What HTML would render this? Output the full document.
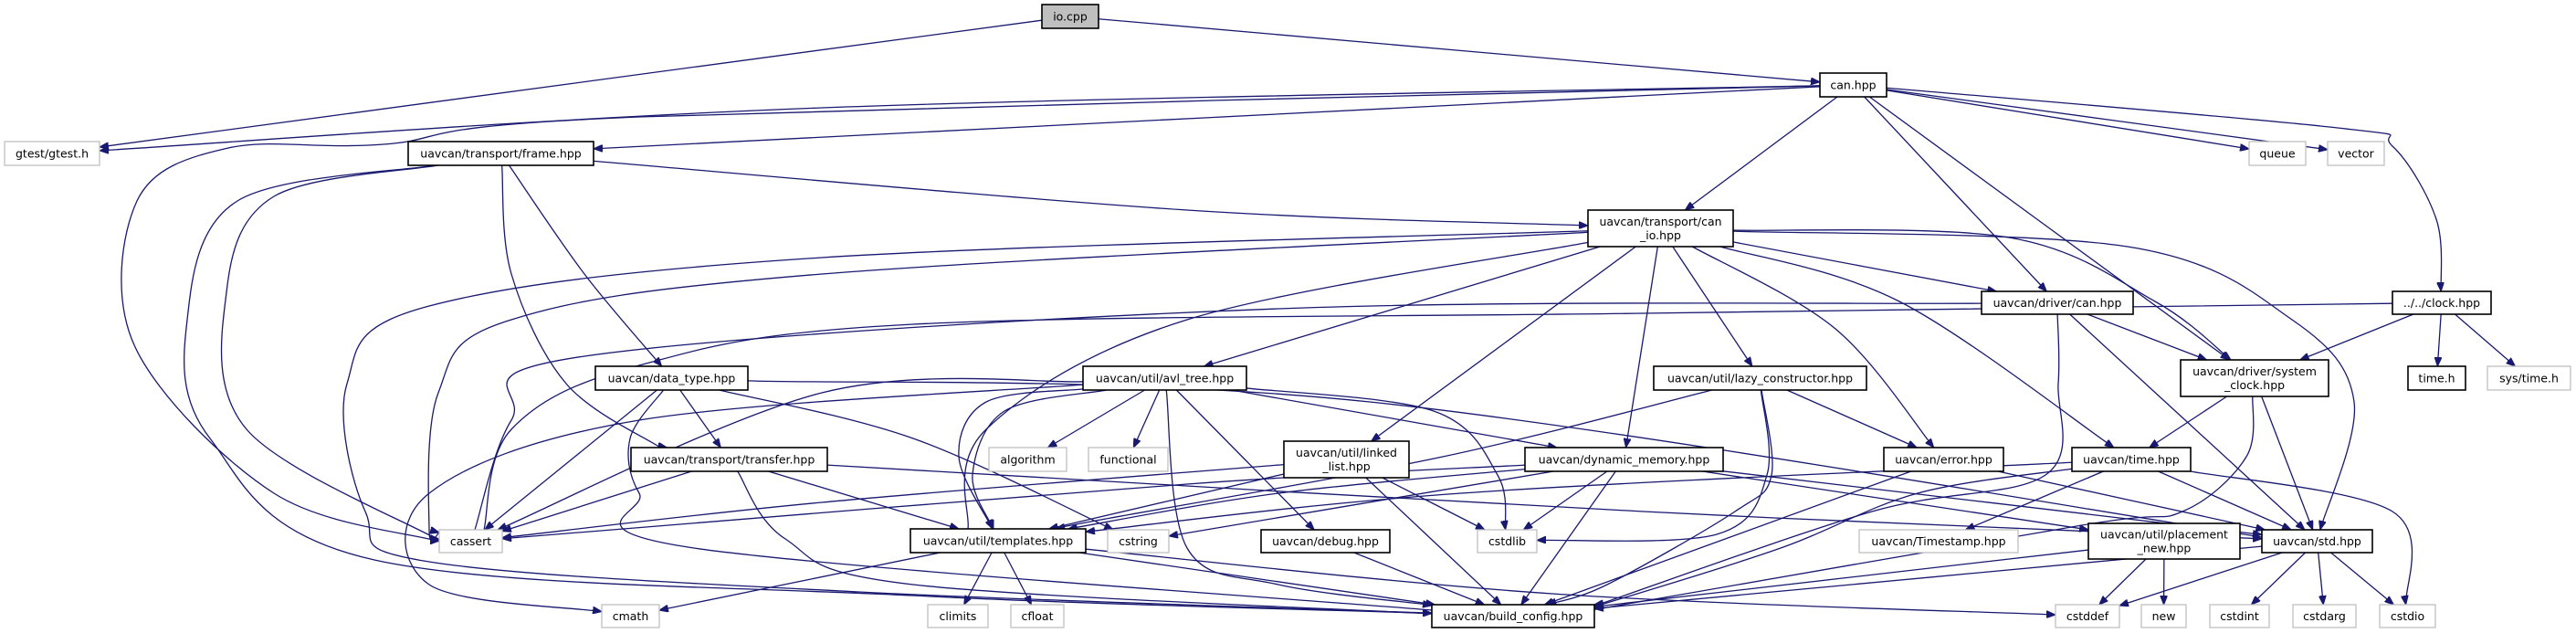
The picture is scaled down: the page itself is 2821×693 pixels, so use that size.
<!DOCTYPE html>
<html><head><meta charset="utf-8"><style>
html,body{margin:0;padding:0;background:#fff;}
svg{display:block;}
text{font-family:"DejaVu Sans","Liberation Sans",sans-serif;font-size:12.5px;fill:#000;}
</style></head><body>
<svg id="g" width="2821" height="693" viewBox="0 0 2821 693" xmlns="http://www.w3.org/2000/svg">
<defs><marker id="a" markerWidth="11" markerHeight="8" refX="10" refY="4" orient="auto" markerUnits="userSpaceOnUse"><path d="M0,0 L10,4 L0,8 z" fill="#191970" stroke="#191970"/></marker></defs>
<g id="edges"></g><g id="nodes"></g>
</svg>
<script>
var N={
io:[1141,5,1203,31,"io.cpp",2],
gtest:[5,155,109,181,"gtest/gtest.h",1],
can:[1993,80,2066,106,"can.hpp"],
frame:[447,155,650,181,"uavcan/transport/frame.hpp"],
queue:[2463,155,2525,181,"queue",1],
vector:[2549,155,2611,181,"vector",1],
canio:[1739,230,1898,270,"uavcan/transport/can|_io.hpp"],
dcan:[2170,319,2336,344,"uavcan/driver/can.hpp"],
clock:[2620,319,2728,344,"../../clock.hpp"],
dtype:[652,401,819,427,"uavcan/data_type.hpp"],
avl:[1186,401,1365,427,"uavcan/util/avl_tree.hpp"],
lazy:[1811,401,2044,427,"uavcan/util/lazy_constructor.hpp"],
sysclk:[2388,394,2550,434,"uavcan/driver/system|_clock.hpp"],
timeh:[2637,401,2700,427,"time.h"],
systime:[2724,401,2815,427,"sys/time.h",1],
transfer:[691,490,906,516,"uavcan/transport/transfer.hpp"],
algorithm:[1083,490,1168,516,"algorithm",1],
functional:[1192,490,1279,516,"functional",1],
linked:[1406,483,1543,523,"uavcan/util/linked|_list.hpp"],
dynmem:[1670,490,1887,516,"uavcan/dynamic_memory.hpp"],
error:[2063,490,2194,516,"uavcan/error.hpp"],
timehpp:[2269,490,2399,516,"uavcan/time.hpp"],
cassert:[481,580,550,605,"cassert",1],
templates:[997,579,1189,605,"uavcan/util/templates.hpp"],
cstring:[1213,580,1280,605,"cstring",1],
debug:[1381,580,1522,605,"uavcan/debug.hpp"],
cstdlib:[1618,580,1683,605,"cstdlib",1],
timestamp:[2036,580,2210,605,"uavcan/Timestamp.hpp",1],
placement:[2287,573,2453,612,"uavcan/util/placement|_new.hpp"],
std:[2477,580,2598,605,"uavcan/std.hpp"],
cmath:[659,662,722,687,"cmath",1],
climits:[1016,662,1082,687,"climits",1],
cfloat:[1107,662,1165,687,"cfloat",1],
build:[1568,662,1746,687,"uavcan/build_config.hpp"],
cstddef:[2251,662,2321,687,"cstddef",1],
"new":[2345,662,2394,687,"new",1],
cstdint:[2420,662,2485,687,"cstdint",1],
cstdarg:[2511,662,2580,687,"cstdarg",1],
cstdio:[2606,662,2667,687,"cstdio",1]
};
var E=[
["io","gtest"],["io","can"],
["can","gtest",[[900,118]]],
["can","cassert",[[700,128],[420,158],[250,162],[150,220],[148,380],[300,540],[478,592]]],
["can","frame"],["can","canio"],["can","dcan"],["can","sysclk"],["can","queue"],["can","vector"],
["can","clock",[[2560,140],[2620,160],[2668,240]]],
["frame","canio",[[1300,230]]],["frame","dtype",[[640,300]]],
["frame","transfer",[[560,300],[620,420],[720,488]]],
["frame","cassert",[[300,215],[248,320],[270,470],[478,590]]],
["frame","build",[[260,220],[205,350],[230,480],[410,613],[1000,652]]],
["canio","cassert",[[900,300],[560,350],[480,430],[470,580]]],
["canio","build",[[900,282],[470,335],[380,420],[400,560],[470,615],[940,648]]],
["canio","templates",[[1300,350],[1080,470],[1060,579]]],
["canio","avl"],["canio","linked"],["canio","dynmem"],["canio","lazy"],
["canio","error",[[2010,360]]],["canio","dcan"],
["canio","sysclk",[[2200,260],[2360,330]]],
["canio","timehpp",[[2080,330]]],
["canio","std",[[2330,270],[2510,350],[2578,440]]],
["dcan","cassert",[[1400,338],[640,390],[560,460],[520,580]]],
["dcan","sysclk"],["dcan","std"],
["dcan","build",[[2254,420],[2240,520],[2050,560],[1750,662]]],
["clock","cassert",[[1800,343],[1000,355],[700,400],[560,470],[530,580]]],
["clock","sysclk"],["clock","timeh"],["clock","systime"],
["sysclk","timehpp"],["sysclk","std"],
["sysclk","build",[[2460,500],[2390,560],[2280,575],[1760,665]]],
["dtype","cassert"],["dtype","transfer"],
["dtype","build",[[690,480],[700,540],[760,600],[1568,668]]],
["dtype","std",[[1500,440],[2477,588]]],
["dtype","cstring",[[1000,480]]],
["transfer","cassert"],["transfer","templates"],
["transfer","build",[[860,590],[1000,640],[1568,672]]],
["transfer","std",[[1800,560]]],
["avl","cassert",[[900,430]]],
["avl","cmath",[[700,460],[470,540],[470,640]]],
["avl","templates",[[1080,440],[1050,500]]],
["avl","templates",[[1100,450],[1065,520]]],
["avl","algorithm"],["avl","functional"],
["avl","build",[[1300,600],[1400,640]]],
["avl","debug"],["avl","dynmem"],
["avl","cstdlib",[[1570,450],[1640,520]]],
["linked","cassert",[[900,550]]],["linked","templates"],["linked","cstdlib"],["linked","build"],
["dynmem","templates",[[1400,540]]],["dynmem","cstring"],["dynmem","cstdlib"],["dynmem","build"],
["dynmem","std"],["dynmem","placement"],["dynmem","cassert",[[1300,530]]],
["lazy","templates",[[1580,500],[1200,570]]],
["lazy","cstdlib",[[1935,520],[1880,585]]],
["lazy","build",[[1940,520],[1900,560],[1760,640]]],
["lazy","error"],
["error","build"],["error","std"],
["timehpp","templates",[[1600,540]]],["timehpp","std"],["timehpp","timestamp"],
["timehpp","cstdio",[[2620,560]]],
["timehpp","build",[[2100,540],[1950,600],[1760,660]]],
["templates","cmath"],["templates","climits"],["templates","cfloat"],["templates","build"],
["templates","cstddef",[[1700,650]]],
["debug","build"],
["placement","cstddef"],["placement","new"],["placement","build"],
["std","cstddef"],["std","cstdint"],["std","cstdarg"],["std","cstdio"],["std","build"]
];
function ctr(n){return [(n[0]+n[2])/2,(n[1]+n[3])/2];}
function clip(n,from){ // intersection of segment center->from with rect boundary
 var c=ctr(n),dx=from[0]-c[0],dy=from[1]-c[1],hw=(n[2]-n[0])/2,hh=(n[3]-n[1])/2;
 var t=Math.min(dx?hw/Math.abs(dx):1e9,dy?hh/Math.abs(dy):1e9);
 return [c[0]+dx*t,c[1]+dy*t];}
var eg=document.getElementById('edges'),ng=document.getElementById('nodes'),ns="http://www.w3.org/2000/svg";
E.forEach(function(e){
 var s=N[e[0]],t=N[e[1]],w=e[2]||[];
 var first=w.length?w[0]:ctr(t),last=w.length?w[w.length-1]:ctr(s);
 var p=[clip(s,first)].concat(w).concat([clip(t,last)]);
 var d="M"+p[0][0]+","+p[0][1];
 for(var i=0;i<p.length-1;i++){
  var p0=p[i-1]||p[i],p1=p[i],p2=p[i+1],p3=p[i+2]||p2;
  var c1=[p1[0]+(p2[0]-p0[0])/6,p1[1]+(p2[1]-p0[1])/6],c2=[p2[0]-(p3[0]-p1[0])/6,p2[1]-(p3[1]-p1[1])/6];
  d+=" C"+c1+" "+c2+" "+p2;}
 var el=document.createElementNS(ns,"path");
 el.setAttribute("d",d);el.setAttribute("fill","none");el.setAttribute("stroke","#191970");
 el.setAttribute("stroke-width","1.3");el.setAttribute("marker-end","url(#a)");eg.appendChild(el);
});
for(var k in N){var n=N[k];
 var r=document.createElementNS(ns,"rect");
 r.setAttribute("x",n[0]);r.setAttribute("y",n[1]);r.setAttribute("width",n[2]-n[0]);r.setAttribute("height",n[3]-n[1]);
 r.setAttribute("fill",n[5]==2?"#bfbfbf":"#fff");r.setAttribute("stroke",n[5]==1?"#bfbfbf":"#000");
 r.setAttribute("stroke-width",n[5]==1?"1.3":"1.6");ng.appendChild(r);
 var lines=n[4].split("|"),cx=(n[0]+n[2])/2,cy=(n[1]+n[3])/2;
 lines.forEach(function(L,i){var tx=document.createElementNS(ns,"text");
  tx.setAttribute("x",cx);tx.setAttribute("y",cy+4.5+(i-(lines.length-1)/2)*15);
  tx.setAttribute("text-anchor","middle");tx.textContent=L;ng.appendChild(tx);});
}
</script>
</body></html>
